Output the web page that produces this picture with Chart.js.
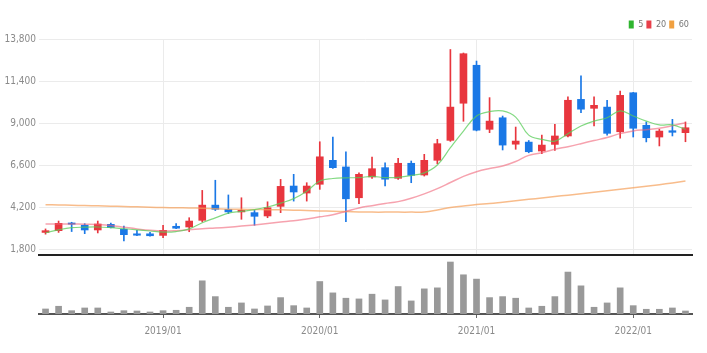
<!DOCTYPE html>
<html>
<head>
<meta charset="utf-8">
<script src="https://cdn.jsdelivr.net/npm/chart.js@4.4.1/dist/chart.umd.min.js"></script>
<style>
  body { margin: 0; background: #fff; }
  #wrap { position: relative; width: 707px; height: 353px; }
  #priceBox { position: absolute; left: 0; top: 0; width: 707px; height: 264px; }
  #volBox { position: absolute; left: 0; top: 258px; width: 707px; height: 95px; }
</style>
</head>
<body>
<div id="wrap">
  <div id="priceBox"><canvas id="priceChart"></canvas></div>
  <div id="volBox"><canvas id="volChart"></canvas></div>
</div>
<script>
const months = [
  '2018/04','2018/05','2018/06','2018/07','2018/08','2018/09','2018/10','2018/11','2018/12',
  '2019/01','2019/02','2019/03','2019/04','2019/05','2019/06','2019/07','2019/08','2019/09','2019/10','2019/11','2019/12',
  '2020/01','2020/02','2020/03','2020/04','2020/05','2020/06','2020/07','2020/08','2020/09','2020/10','2020/11','2020/12',
  '2021/01','2021/02','2021/03','2021/04','2021/05','2021/06','2021/07','2021/08','2021/09','2021/10','2021/11','2021/12',
  '2022/01','2022/02','2022/03','2022/04','2022/05'
];

const openPrices = [2750,2850,3290,3160,2890,3210,2930,2670,2670,2580,3100,3060,3440,4310,4070,3920,3880,3690,4240,5400,5000,5500,6870,6490,4730,5920,6450,5840,6700,6030,6870,8010,10130,12300,8640,9300,7790,7910,7400,7780,8260,10350,9840,9910,8500,10730,8870,8200,8560,8450];
const highPrices = [2950,3400,3330,3250,3400,3290,3110,2870,2760,3160,3250,3590,5150,5730,4890,4730,4010,4500,5780,6070,5590,7930,8200,7360,6160,7060,6730,6980,6830,7210,8070,13200,13000,12540,10450,9400,8770,8000,8310,8930,10490,11690,10490,10300,10830,10750,9060,8640,9210,9060];
const lowPrices = [2650,2750,2800,2680,2720,3000,2260,2570,2540,2450,2960,2790,3350,4000,3820,3500,3160,3590,3880,4540,4540,5210,6400,3360,4390,5840,5400,5780,5590,5970,6670,7950,9100,8550,8450,7460,7500,7300,7250,7440,8200,9590,8830,8310,8130,8200,7920,7690,8260,7930];
const closePrices = [2850,3270,3220,2890,3230,3030,2620,2590,2560,2870,2990,3400,4310,4070,3920,4010,3670,4160,5380,5060,5400,7070,6450,4670,6070,6390,5790,6700,6010,6870,7820,9910,12960,8590,9110,7740,7970,7360,7740,8260,10300,9790,10010,8410,10580,8700,8160,8540,8470,8730];

const ma5 = [2730,2900,3020,3050,3060,3020,2960,2900,2830,2770,2800,2950,3300,3580,3850,3950,4050,4200,4420,4680,5100,5690,5830,5870,5880,5950,5880,5900,6000,6150,6600,7590,8540,9400,9650,9690,9340,8310,8070,7970,8390,8830,9110,9300,9690,9400,9110,8890,8890,8640];
const ma20 = [3230,3230,3230,3220,3200,3150,3050,2950,2870,2830,2850,2900,2960,3000,3050,3110,3180,3260,3340,3410,3520,3640,3760,3950,4150,4280,4400,4510,4700,4950,5250,5600,5950,6220,6400,6540,6800,7150,7300,7500,7650,7820,8000,8170,8400,8550,8620,8700,8850,9020];
const ma60 = [4330,4320,4300,4290,4270,4250,4230,4210,4190,4170,4160,4150,4130,4100,4080,4070,4060,4050,4040,4020,4000,3980,3960,3940,3920,3910,3910,3910,3910,3920,4030,4180,4260,4340,4400,4480,4560,4640,4720,4800,4880,4960,5040,5130,5210,5300,5390,5480,5580,5690];

const volumes = [5000,7700,3300,6000,6000,2000,3300,3000,2000,3300,3700,6700,33000,17300,6700,11000,5000,8000,16300,8300,6000,32300,21000,15700,15000,19700,14000,27300,13000,25000,26000,51700,39000,34700,16300,17300,15700,6000,7700,17300,41700,28000,6700,11000,26000,8300,4700,4700,6000,3000];

const priceTicks = [1800, 4200, 6600, 9000, 11400, 13800];

const upColor = '#e8363e';
const downColor = '#1a78e6';
const tickFont = { family: "'Liberation Sans Narrow', 'DejaVu Sans Condensed', 'Roboto', sans-serif", size: 10 };
const isYear = i => months[i] && months[i].endsWith('/01');

const bodies = openPrices.map((o, i) => [o, closePrices[i]]);
const wicks = lowPrices.map((l, i) => [l, highPrices[i]]);
const candleColors = openPrices.map((o, i) => closePrices[i] >= o ? upColor : downColor);

const maLegend = [
  { text: '5', color: '#2fb52f' },
  { text: '20', color: '#e8404a' },
  { text: '60', color: '#f0a040' }
];

new Chart(document.getElementById('priceChart'), {
  type: 'bar',
  data: {
    labels: months,
    datasets: [
      { type: 'line', label: '5', data: ma5, borderColor: 'rgba(90,205,90,0.75)', borderWidth: 1.2, pointRadius: 0, tension: 0.4, order: 0 },
      { type: 'line', label: '20', data: ma20, borderColor: 'rgba(240,100,120,0.6)', borderWidth: 1.5, pointRadius: 0, tension: 0.4, order: 0 },
      { type: 'line', label: '60', data: ma60, borderColor: 'rgba(245,160,90,0.7)', borderWidth: 1.5, pointRadius: 0, tension: 0.4, order: 0 },
      { label: 'body', data: bodies, backgroundColor: candleColors, barThickness: 7, grouped: false, order: 1 },
      { label: 'wick', data: wicks, backgroundColor: candleColors, barThickness: 1, grouped: false, order: 2 }
    ]
  },
  options: {
    responsive: true,
    maintainAspectRatio: false,
    animation: false,
    layout: { padding: { top: 17, right: 15, left: 0, bottom: 0 } },
    plugins: {
      tooltip: { enabled: false },
      legend: {
        position: 'top',
        align: 'end',
        labels: {
          boxWidth: 5,
          boxHeight: 8,
          padding: 3,
          color: '#777',
          font: { family: tickFont.family, size: 9 },
          generateLabels: () => maLegend.map((m, i) => ({
            text: m.text, fillStyle: m.color, strokeStyle: m.color, lineWidth: 0, datasetIndex: i, fontColor: '#777'
          }))
        }
      }
    },
    scales: {
      x: {
        offset: true,
        grid: {
          offset: false,
          drawTicks: false,
          color: ctx => isYear(ctx.index) ? '#ebebeb' : 'transparent'
        },
        ticks: { display: false, autoSkip: false },
        border: { color: '#222', width: 2 }
      },
      y: {
        min: 1460,
        max: 13800,
        afterBuildTicks: s => { s.ticks = priceTicks.map(v => ({ value: v })); },
        afterFit: s => { s.width = 39; },
        grid: { color: '#ebebeb', drawTicks: false },
        border: { display: false },
        ticks: {
          color: '#8a8a8a',
          font: tickFont,
          padding: 3,
          callback: v => v.toLocaleString('en-US')
        }
      }
    }
  }
});

new Chart(document.getElementById('volChart'), {
  type: 'bar',
  data: {
    labels: months,
    datasets: [
      { label: 'volume', data: volumes, backgroundColor: '#999', barThickness: 6 }
    ]
  },
  options: {
    responsive: true,
    maintainAspectRatio: false,
    animation: false,
    layout: { padding: { top: 2, right: 15, left: 0, bottom: 9 } },
    plugins: { legend: { display: false }, tooltip: { enabled: false } },
    scales: {
      x: {
        offset: true,
        grid: {
          offset: false,
          drawOnChartArea: false,
          tickLength: 4,
          color: ctx => isYear(ctx.index) ? '#666' : 'transparent'
        },
        ticks: {
          autoSkip: false,
          maxRotation: 0,
          color: '#8a8a8a',
          font: tickFont,
          padding: 7,
          callback: (v, i) => isYear(i) ? months[i] : ''
        },
        border: { color: '#555', width: 2 }
      },
      y: {
        min: 0,
        max: 53700,
        afterFit: s => { s.width = 39; },
        grid: { display: false },
        border: { display: false },
        ticks: { display: false }
      }
    }
  }
});
</script>
</body>
</html>
